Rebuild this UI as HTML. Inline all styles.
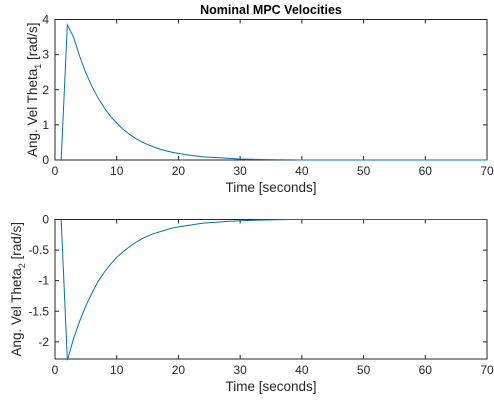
<!DOCTYPE html>
<html><head><meta charset="utf-8"><style>
body{margin:0;background:#fff}
svg{display:block;font-family:"Liberation Sans",Arial,sans-serif}
</style></head><body>
<svg id="chart" width="494" height="408" viewBox="0 0 494 408">
<rect width="494" height="408" fill="#fff"/>
<text x="271" y="14" text-anchor="middle" font-size="12.5" font-weight="bold" fill="#000">Nominal MPC Velocities</text>
<g id="p1"></g><g id="p2"></g>
</svg>
<script>
const t1 = [1,2,3,4,5,6,7,8,9,10,11,12,13,14,15,16,17,18,19,20,21,22,23,24,25,26,27,28,29,30,32,35,40,70];
const v1 = [0,3.85,3.5,2.95,2.48,2.09,1.76,1.48,1.24,1.05,0.88,0.74,0.62,0.52,0.44,0.37,0.31,0.26,0.22,0.19,0.16,0.13,0.11,0.09,0.08,0.07,0.06,0.05,0.04,0.03,0.02,0.01,0,0];
const t2 = [1,2,3,4,5,6,7,8,9,10,11,12,13,14,15,16,17,18,19,20,22,24,26,28,30,33,38,70];
const v2 = [0,-2.3,-1.95,-1.66,-1.41,-1.2,-1.01,-0.86,-0.73,-0.62,-0.53,-0.45,-0.38,-0.32,-0.27,-0.23,-0.2,-0.17,-0.14,-0.12,-0.09,-0.06,-0.045,-0.03,-0.02,-0.01,0,0];
const xTicks = [0,10,20,30,40,50,60,70];
const yTicks1 = [0,1,2,3,4];
const yTicks2 = [-2,-1.5,-1,-0.5,0];
const NS='http://www.w3.org/2000/svg';
function el(tag,attrs,parent,txt){const e=document.createElementNS(NS,tag);for(const k in attrs)e.setAttribute(k,attrs[k]);if(txt!==undefined)e.textContent=txt;parent.appendChild(e);return e;}
function panel(g,cfg){
  const L=55,R=487,T=cfg.top,B=cfg.bot;
  const sx=v=>L+(v-0)/(70-0)*(R-L);
  const sy=v=>B-(v-cfg.ymin)/(cfg.ymax-cfg.ymin)*(B-T);
  xTicks.forEach(v=>{
    const x=sx(v);
    const tk=el('path',{d:`M${x},${B}v-4M${x},${T}v4`,stroke:'#262626','stroke-width':1},g);
    
    
    const tl=el('text',{x:x,y:B+15,'text-anchor':'middle','font-size':12,fill:'#262626'},g,String(v));
    
    
  });
  cfg.yt.forEach(v=>{
    const y=sy(v);
    const tk=el('path',{d:`M${L},${y}h4M${R},${y}h-4`,stroke:'#262626','stroke-width':1},g);
    
    
    const tl=el('text',{x:L-6,y:y+4,'text-anchor':'end','font-size':12,fill:'#262626'},g,String(v));
    
    
  });
  const box=el('rect',{x:L,y:T,width:R-L,height:B-T,fill:'none',stroke:'#262626','stroke-width':1},g);
  
  
  const d=cfg.t.map((t,i)=>(i?'L':'M')+sx(t).toFixed(2)+','+sy(cfg.v[i]).toFixed(2)).join('');
  const ln=el('path',{d:d,fill:'none',stroke:'#0072BD','stroke-width':1},g);
  
  
  const xl=el('text',{x:(L+R)/2,y:B+32,'text-anchor':'middle','font-size':13.5,fill:'#262626'},g,'Time [seconds]');
  
  
  const cy=(T+B)/2;
  const yl=el('text',{x:0,y:0,'text-anchor':'middle','font-size':13.5,fill:'#262626',transform:`translate(${cfg.tx},${cy}) rotate(-90)`},g);
  
  
  yl.appendChild(document.createTextNode('Ang. Vel Theta'));
  el('tspan',{'font-size':9,dy:4},yl,cfg.sub);
  el('tspan',{dy:-4},yl,' [rad/s]');
}
panel(document.getElementById('p1'),{top:19.5,bot:160,ymin:0,ymax:4,yt:yTicks1,t:t1,v:v1,sub:'1',name:'theta1-velocity-line',tx:37});
panel(document.getElementById('p2'),{top:219.5,bot:359,ymin:-2.28,ymax:0,yt:yTicks2,t:t2,v:v2,sub:'2',name:'theta2-velocity-line',tx:21});
</script>
</body></html>
